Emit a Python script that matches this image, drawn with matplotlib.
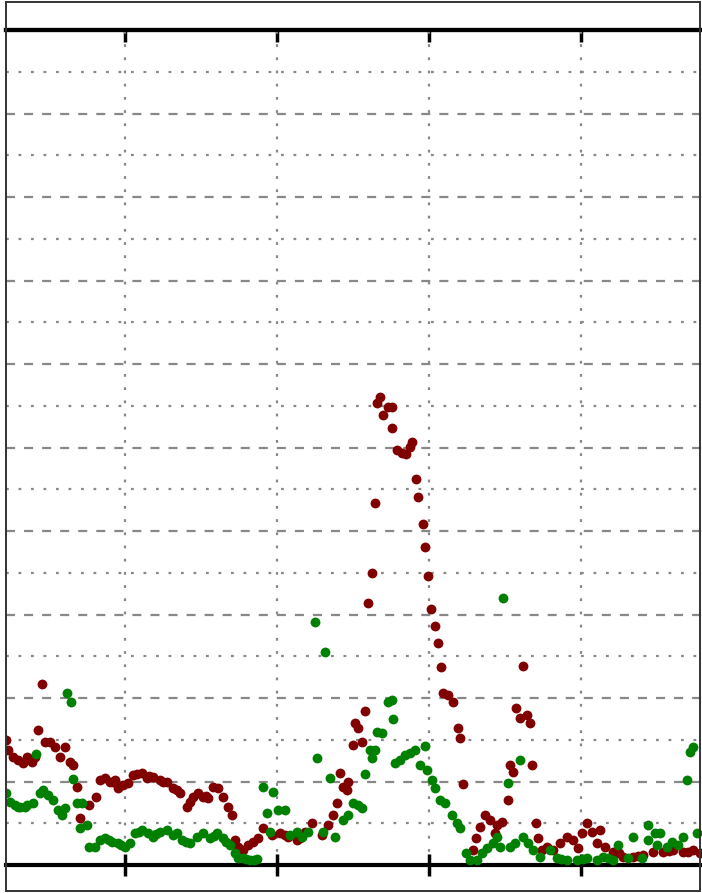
import matplotlib
matplotlib.use('Agg')
import matplotlib.pyplot as plt
from matplotlib.patches import Rectangle

plt.rcParams['lines.scale_dashes'] = False

# red series
red_x = [4.4, 4.6, 5.3, 5.9, 6.6, 7.1, 7.8, 8.2, 8.6, 9.1, 9.5, 10.1, 10.8, 11.4, 12.1, 12.8, 13.2, 13.7,
         14.1, 15.3, 16.2, 16.7, 17.4, 18.0, 18.7, 19.1, 19.7, 20.4, 21.1, 22.2, 22.9, 23.7, 24.6, 25.5,
         26.3, 27.2, 28.2, 28.6, 29.0, 29.6, 30.3, 30.9, 31.6, 32.2, 32.9, 33.6, 34.1, 34.5, 34.9, 35.5,
         36.2, 36.8, 37.5, 38.2, 39.3, 40.4, 41.4, 42.6, 43.7, 44.6, 45.9, 46.7, 47.4, 47.9, 48.3, 48.7,
         49.2, 49.3, 50.0, 50.3, 50.7, 51.2, 51.6, 52.0, 52.5, 52.9, 53.2, 53.6, 53.9, 54.6, 55.1, 55.1,
         55.8, 56.4, 56.9, 57.5, 57.8, 58.3, 58.6, 59.2, 59.5, 59.9, 60.3, 60.8, 61.2, 61.6, 61.8, 62.5,
         63.2, 63.8, 64.1, 64.5, 65.8, 66.2, 66.7, 67.4, 68.0, 68.7, 68.9, 69.6, 70.4, 70.7, 71.0, 72.4,
         71.4, 72.0, 72.9, 73.3, 73.6, 74.1, 74.3, 74.9, 75.5, 76.3, 77.2, 78.1, 78.9, 79.6, 80.1, 80.8,
         81.4, 82.1, 82.5, 83.2, 84.2, 85.5, 86.8, 88.2, 89.5, 90.8, 92.1, 93.4, 94.7, 95.7,
         18.4, 21.6, 23.2, 25.0, 26.8, 30.6, 41.0, 43.0, 85.0, 87.5, 91.5, 94.0]
red_y = [15.0, 13.8, 12.9, 12.6, 12.2, 12.9, 12.3, 12.9, 16.2, 21.7, 14.7, 14.7, 14.1, 12.9, 14.1, 12.3, 12.0, 9.3,
         5.6, 7.2, 8.1, 10.2, 10.4, 9.9, 10.2, 9.2, 9.6, 9.8, 10.8, 11.0, 10.4, 10.5, 10.2, 9.9,
         9.2, 8.6, 6.9, 7.5, 8.1, 8.6, 8.1, 8.0, 9.3, 9.2, 8.1, 6.9, 6.0, 3.0, 2.2, 1.8,
         2.4, 2.8, 3.2, 4.4, 3.6, 3.8, 3.4, 3.0, 4.0, 5.0, 3.6, 4.8, 6.0, 7.4, 11.0, 9.3,
         9.0, 9.9, 14.4, 17.0, 16.4, 14.7, 18.4, 31.4, 35.0, 43.4, 55.3, 56.0, 53.9, 54.9, 54.9, 52.3,
         49.7, 49.3, 49.2, 50.1, 50.7, 46.2, 44.1, 40.8, 38.1, 34.6, 30.7, 28.6, 26.6, 23.7, 20.6, 20.4,
         19.5, 16.4, 15.2, 9.7, 1.8, 3.2, 4.6, 6.0, 5.4, 3.8, 4.8, 5.1, 7.8, 12.0, 11.1, 23.8,
         18.8, 17.6, 18.0, 17.0, 12.0, 5.0, 3.2, 1.8, 2.2, 1.8, 2.6, 3.4, 3.0, 2.0, 3.8, 5.0,
         4.0, 2.6, 4.2, 2.2, 1.6, 1.0, 1.0, 1.2, 1.6, 1.6, 1.8, 1.6, 1.8, 1.4,
         10.0, 10.9, 10.7, 10.0, 9.0, 8.3, 3.6, 3.2, 1.4, 1.1, 1.7, 1.6]

# green series
green_x = [4.4, 4.9, 5.5, 6.2, 7.1, 7.9, 8.3, 8.8, 9.2, 9.9, 10.5, 11.2, 11.7, 12.1, 12.4, 12.9, 13.2, 13.7,
           14.3, 15.0, 14.1, 15.3, 16.1, 16.7, 17.4, 18.3, 19.1, 20.0, 20.7, 21.3, 22.2, 23.0, 23.7, 24.6,
           25.5, 26.3, 27.5, 28.6, 29.5, 30.3, 31.2, 32.1, 32.9, 33.8, 34.5, 34.9, 35.5, 36.4, 37.4, 38.2,
           38.7, 39.1, 39.5, 40.1, 41.0, 41.7, 42.6, 43.3, 44.1, 45.0, 45.3, 46.1, 46.3, 47.0, 47.6, 48.7,
           49.3, 50.0, 50.7, 51.2, 51.6, 52.2, 52.5, 52.9, 53.2, 53.8, 54.6, 55.1, 55.3, 55.5, 56.2, 56.8,
           57.5, 58.2, 59.5, 58.8, 59.7, 60.4, 60.8, 61.4, 62.1, 63.0, 63.7, 64.1, 64.9, 65.4, 66.3, 67.0,
           67.6, 68.4, 68.9, 69.3, 69.7, 70.4, 70.7, 71.3, 72.0, 72.4, 73.0, 73.7, 74.6, 75.9, 76.8, 78.1,
           79.5, 80.8, 82.1, 82.9, 84.2, 84.9, 86.1, 86.8, 88.0, 88.8, 88.8, 89.7, 90.0, 90.4, 91.3, 91.9,
           92.8, 93.4, 93.9, 94.3, 94.7, 95.3,
           5.9, 6.8, 17.9, 19.5, 21.8, 24.1, 26.8, 28.0, 31.7, 33.3, 35.9, 36.9, 77.4, 80.2, 83.5]
green_y = [8.6, 7.5, 7.2, 6.9, 7.2, 7.4, 13.3, 8.6, 9.0, 8.4, 7.8, 6.6, 6.0, 6.8, 20.6, 19.5, 10.3, 7.4,
           7.4, 4.8, 4.4, 2.2, 2.2, 3.0, 3.2, 2.8, 2.6, 2.2, 2.6, 3.8, 4.2, 3.8, 3.4, 4.0,
           4.2, 3.6, 3.0, 2.6, 3.4, 3.8, 3.2, 3.8, 3.2, 2.4, 1.4, 0.8, 0.8, 0.6, 0.7, 9.3,
           6.2, 4.0, 8.7, 6.6, 6.6, 3.6, 4.0, 3.4, 4.0, 29.1, 12.8, 4.0, 25.5, 10.4, 3.4, 5.4,
           6.0, 7.4, 7.2, 6.8, 10.9, 13.8, 12.8, 13.8, 15.9, 15.8, 19.5, 19.8, 17.5, 12.2, 12.6, 13.2,
           13.4, 13.8, 14.3, 12.0, 11.4, 10.2, 9.2, 7.8, 7.4, 6.0, 5.0, 4.4, 1.4, 0.6, 0.6, 1.4,
           2.0, 2.6, 3.4, 2.2, 32.0, 9.8, 2.2, 2.6, 12.6, 3.4, 2.6, 1.8, 1.0, 1.8, 0.8, 0.6,
           0.6, 0.8, 0.6, 1.0, 0.6, 2.4, 0.8, 3.4, 0.8, 4.8, 3.0, 3.8, 2.4, 3.8, 2.2, 2.8,
           2.4, 3.4, 10.2, 13.5, 14.1, 3.8,
           7.0, 7.0, 3.0, 2.4, 4.0, 3.7, 3.8, 2.8, 3.5, 2.8, 0.7, 0.6, 0.7, 0.7, 0.8]

x_ticks = [20, 40, 60, 80]

W, H = 702, 893
fig = plt.figure(figsize=(W / 100, H / 100), dpi=100)
ax = fig.add_axes([6 / W, 28 / H, 696 / W, 835 / H])

ax.scatter(red_x, red_y, s=50, color='#800000', linewidths=0, zorder=3)
ax.scatter(green_x, green_y, s=50, color='#008000', linewidths=0, zorder=3)

ax.set_xlim(4.34, 95.9)
ax.set_ylim(0, 100)
ax.set_xticks(x_ticks)
ax.set_yticks(range(0, 101, 10))
ax.set_yticks(range(5, 100, 10), minor=True)
ax.tick_params(axis='x', which='major', direction='inout', length=16, width=2.5,
               labelbottom=False, top=False)
ax.tick_params(axis='y', which='both', length=0, labelleft=False)

ax.grid(axis='x', which='major', color='#888888', lw=1.6, linestyle=(0, (2, 7.5)))
ax.grid(axis='y', which='major', color='#888888', lw=1.6, linestyle=(0, (6.5, 6.5)))
ax.grid(axis='y', which='minor', color='#888888', lw=1.6, linestyle=(0, (2, 7)))
ax.set_axisbelow(True)

for side in ['left', 'right']:
    ax.spines[side].set_visible(False)
ax.spines['bottom'].set_linewidth(3)
ax.spines['top'].set_linewidth(3)

top = ax.secondary_xaxis('top')
top.set_xticks(x_ticks)
top.tick_params(direction='in', length=8.5, width=2.5, labeltop=False)
top.spines['top'].set_linewidth(3)

# outer frame
fig.add_artist(Rectangle((6 / W, 2 / H), 694 / W, 889 / H, transform=fig.transFigure,
                         fill=False, edgecolor='#333333', lw=1.4))

plt.savefig('out.png', dpi=100)
